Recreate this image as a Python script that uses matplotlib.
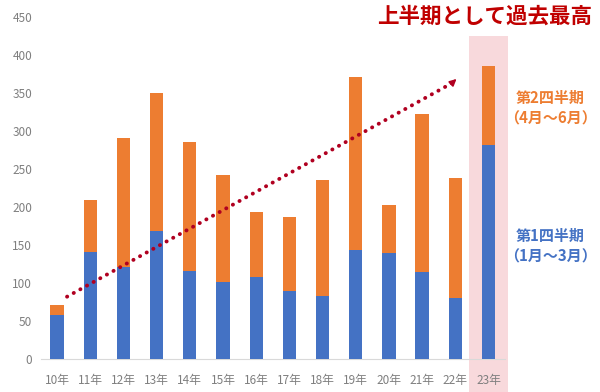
import matplotlib
matplotlib.use('Agg')
import matplotlib.pyplot as plt
from matplotlib.patches import Rectangle
import numpy as np

plt.rcParams['font.family'] = ['Noto Sans CJK JP', 'DejaVu Sans']

years = ['10年', '11年', '12年', '13年', '14年', '15年', '16年',
         '17年', '18年', '19年', '20年', '21年', '22年', '23年']
q1 = [58, 141, 121, 168, 116, 101, 108, 90, 83, 143, 139, 114, 80, 282]
total = [71, 209, 291, 350, 286, 242, 193, 187, 236, 371, 202, 323, 238, 385]
q2 = [t - a for t, a in zip(total, q1)]

blue = '#4472C4'
orange = '#ED7D31'
red = '#C00000'

fig = plt.figure(figsize=(6, 3.92), dpi=100)
ax = fig.add_axes([0.0675, 0.0842, 0.7742, 0.8724])

x = np.arange(len(years))
ax.bar(x, q1, width=0.4, color=blue, zorder=3)
ax.bar(x, q2, width=0.4, bottom=q1, color=orange, zorder=3)

# highlight latest year
ax.add_patch(Rectangle((12.41, -44), 1.18, 469, facecolor='#F8D9DC',
                       edgecolor='none', zorder=1, clip_on=False))

# trend arrow
ax.plot([0.3, 11.9], [82, 363], linestyle=(0, (0.05, 1.9)), linewidth=2.8,
        color='#B00020', dash_capstyle='round', zorder=4)
ax.annotate('', xy=(12.1, 371), xytext=(11.85, 361),
            arrowprops=dict(arrowstyle='-|>', color='#B00020', lw=1.2,
                            mutation_scale=10), zorder=4)

ax.set_xlim(-0.5, 13.5)
ax.set_ylim(0, 450)
ax.set_yticks(range(0, 451, 50))
ax.set_xticks(x)
ax.set_xticklabels(years)
ax.tick_params(axis='both', length=0, labelsize=8.5, colors='#7F7F7F')
ax.tick_params(axis='x', pad=11)
ax.tick_params(axis='y', pad=6)
for s in ['top', 'right', 'left']:
    ax.spines[s].set_visible(False)
ax.spines['bottom'].set_color('#D9D9D9')

fig.text(0.808, 0.958, '上半期として過去最高', color=red, fontsize=15.5,
         fontweight='bold', ha='center', va='center')
fig.text(0.917, 0.725, '第2四半期\n（4月～6月）', color=orange, fontsize=10.8,
         fontweight='bold', ha='center', va='center', linespacing=1.35)
fig.text(0.917, 0.372, '第1四半期\n（1月～3月）', color=blue, fontsize=10.8,
         fontweight='bold', ha='center', va='center', linespacing=1.35)

fig.savefig('out.png', dpi=100)
